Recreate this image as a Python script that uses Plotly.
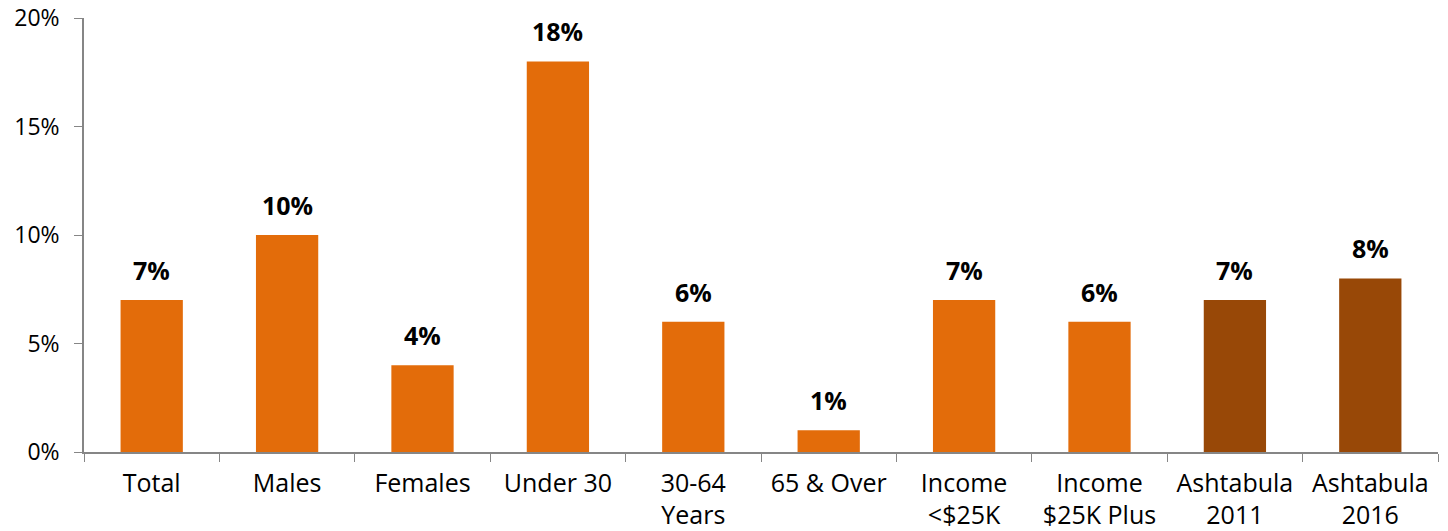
import plotly.graph_objects as go

categories = ["Total", "Males", "Females", "Under 30", "30-64<br>Years", "65 & Over",
              "Income<br><$25K", "Income<br>$25K Plus", "Ashtabula<br>2011", "Ashtabula<br>2016"]
values = [7, 10, 4, 18, 6, 1, 7, 6, 7, 8]
labels = ["7%", "10%", "4%", "18%", "6%", "1%", "7%", "6%", "7%", "8%"]
y_ticks = [0, 5, 10, 15, 20]
y_tick_text = ["0%", "5%", "10%", "15%", "20%"]
colors = ["#E36C0A"] * 8 + ["#984807"] * 2

FONT = "Open Sans, Noto Sans, sans-serif"

fig = go.Figure(go.Bar(x=categories, y=values, marker_color=colors, marker_line_width=0))

for c, v, t in zip(categories, values, labels):
    fig.add_annotation(x=c, y=v, text="<b>" + t + "</b>", showarrow=False,
                       yanchor="bottom", yshift=11,
                       font=dict(family=FONT, size=25, color="#000000"))

fig.update_layout(
    width=1448, height=531,
    margin=dict(l=84, r=10, t=18, b=79),
    paper_bgcolor="white", plot_bgcolor="white",
    bargap=0.54, showlegend=False,
    font=dict(family=FONT, size=25, color="#000000"),
)
fig.update_xaxes(showline=True, linecolor="#868686", linewidth=1.5,
                 ticks="outside", tickson="boundaries", ticklen=8, tickcolor="#868686",
                 showgrid=False, tickfont=dict(size=25), tickangle=0, automargin=False,
                 ticklabelstandoff=8)
fig.update_yaxes(range=[0, 20], tickvals=y_ticks, ticktext=y_tick_text,
                 showline=True, linecolor="#868686", linewidth=1.5,
                 ticks="outside", ticklen=8, tickcolor="#868686",
                 showgrid=False, zeroline=False, tickfont=dict(size=23), automargin=False,
                 ticklabeloverflow="allow", ticklabelstandoff=10)

fig.write_html("out.html", config={"displayModeBar": False},
               post_script="document.body.style.margin='0';document.body.style.overflow='hidden';")
